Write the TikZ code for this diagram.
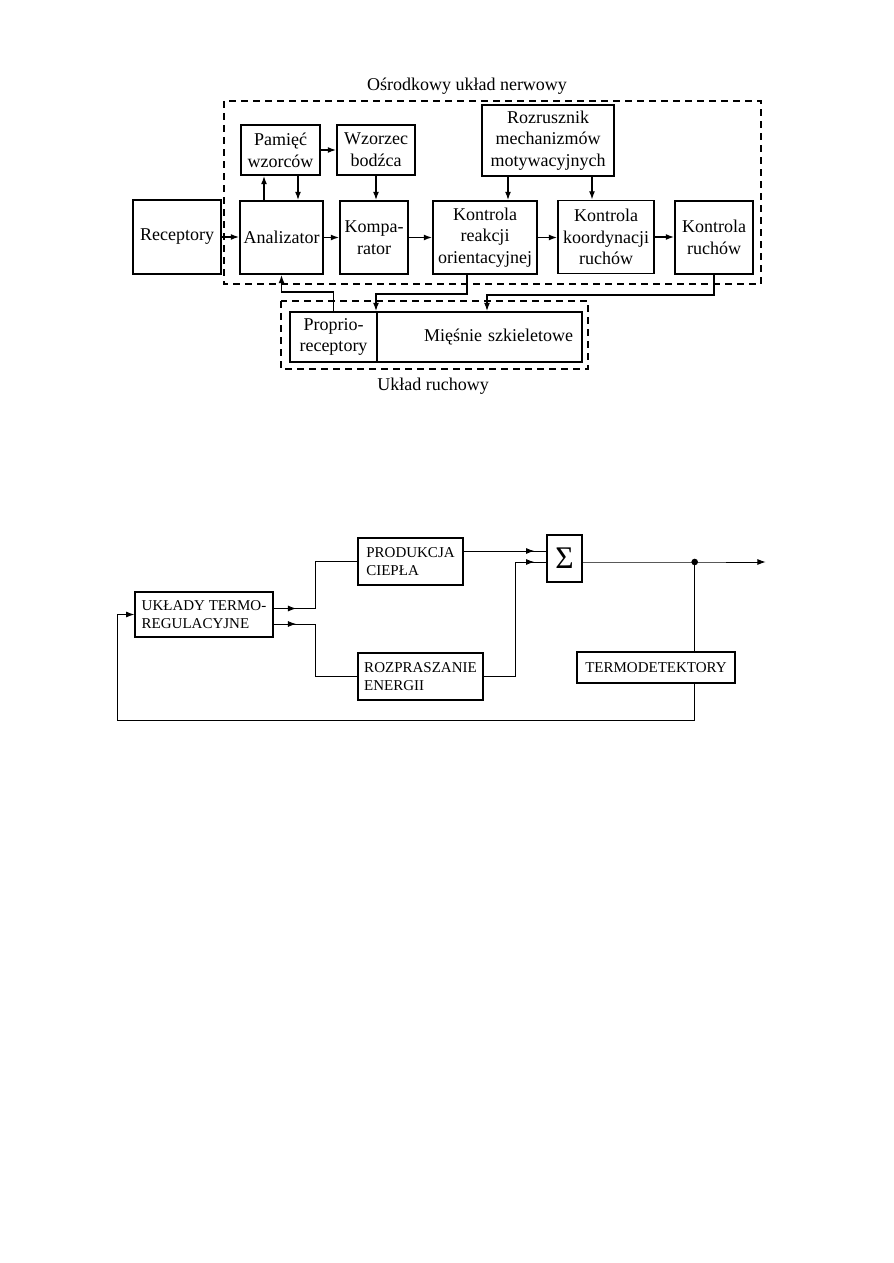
\documentclass[tikz,border=0pt]{standalone}
\usepackage{fontspec}
\setmainfont{Liberation Serif}
\usetikzlibrary{calc,arrows.meta}

\begin{document}
\begin{tikzpicture}[x=0.6666pt,y=-0.6666pt,
  >={Latex[length=5.5pt,width=4pt]},
  font=\fontsize{12}{14.5}\selectfont,
  blok/.style={draw,line width=1.3pt,align=center,inner sep=1pt},
  rozm/.style 2 args={minimum width=#1*0.6666pt,minimum height=#2*0.6666pt},
  rama/.style={line width=0.9pt,dash pattern=on 4.5pt off 3.5pt},
  linia/.style={line width=0.9pt},
  maly/.style={draw,line width=0.9pt,align=left,inner sep=1pt,font=\fontsize{10}{12}\selectfont},
  cienka/.style={line width=0.6pt}]
\useasboundingbox (0,0) rectangle (893,1263);

% osrodkowy uklad nerwowy
\draw[rama] (224,101) rectangle (761,284);
\draw (467,86) node (tytul1) {Ośrodkowy układ nerwowy};
\draw (177,237) node[blok,rozm={88}{74}] (recep) {Receptory};
\draw (281.5,237.5) node[blok,rozm={83}{73}] (anal) {Analizator};
\draw (280.5,150) node[blok,rozm={79}{50}] (pam) {Pamięć\\wzorców};
\draw (376,150) node[blok,rozm={78}{50}] (wzor) {Wzorzec\\bodźca};
\draw (374,237.5) node[blok,rozm={68}{73}] (komp) {Kompa-\\rator};
\draw (485,237.5) node[blok,rozm={104}{73}] (reak) {Kontrola\\reakcji\\orientacyjnej};
\draw (548,140.5) node[blok,rozm={132}{71}] (rozr) {Rozrusznik\\mechanizmów\\motywacyjnych};
\draw (606,237) node[blok,rozm={96}{73}] (koord) {Kontrola\\koordynacji\\ruchów};
\draw (714,237.5) node[blok,rozm={78}{73}] (ruch) {Kontrola\\ruchów};

% uklad ruchowy
\draw[rama] (281,301) rectangle (588,369);
\draw (433,386) node (tytul2) {Układ ruchowy};
\draw (333.5,337) node[blok,rozm={87}{50}] (proprio) {Proprio-\\receptory};
\draw (479.5,337) node[blok,rozm={205}{50},align=right,text width=124.7pt,inner xsep=6pt] (miesnie) {Mięśnie szkieletowe};

\draw[linia,->] (recep.east) -- (recep.east -| anal.west);
\draw[linia,->] (anal.east) -- (anal.east -| komp.west);
\draw[linia,->] (komp.east) -- (komp.east -| reak.west);
\draw[linia,->] (reak.east) -- (reak.east -| koord.west);
\draw[linia,->] (koord.east) -- (koord.east -| ruch.west);
\draw[linia,->] (pam.east) -- (pam.east -| wzor.west);
\draw[linia,->] ($(anal.north)+(-17.5,0)$) coordinate (a1) -- (a1 |- pam.south);
\draw[linia,->] ($(pam.south)+(17.5,0)$) coordinate (a2) -- (a2 |- anal.north);
\draw[linia,->] (wzor.south) -- (wzor.south |- komp.north);
\draw[linia,->] ($(rozr.south)+(-40,0)$) coordinate (m1) -- (m1 |- reak.north);
\draw[linia,->] ($(rozr.south)+(44,0)$) coordinate (m2) -- (m2 |- koord.north);
\draw[linia,->] (proprio.north) -- ++(0,-19) -| (anal.south);
\draw[linia,->] ($(reak.south)+(-18,0)$) -- ++(0,19) -| (miesnie.north west);
\draw[linia,->] (ruch.south) -- ++(0,20) -| ($(miesnie.north)+(7.5,0)$);

% termoregulacja
\draw (204,614.5) node[maly,rozm={138}{45}] (termo) {UKŁADY TERMO-\\REGULACYJNE};
\draw (410.5,561.5) node[maly,rozm={105}{47}] (prod) {PRODUKCJA\\CIEPŁA};
\draw (420.5,676.5) node[maly,rozm={125}{47}] (rozp) {ROZPRASZANIE\\ENERGII};
\draw (564.5,558.5) node[maly,rozm={35}{47},font=\fontsize{21}{21}\selectfont] (sigma) {Σ};
\draw (656,667.5) node[maly,rozm={158}{31}] (termodet) {TERMODETEKTORY};

\draw[cienka] ($(termo.east)+(0,-6)$) coordinate (t1) -- ++(42,0) |- (prod.west);
\draw[cienka,->,shorten >=13pt] (t1) -- ++(42,0);
\draw[cienka] ($(termo.east)+(0,9.5)$) coordinate (t2) -- ++(42,0) |- (rozp.west);
\draw[cienka,->,shorten >=13pt] (t2) -- ++(42,0);
\draw[cienka] ($(prod.east)+(0,-10.5)$) coordinate (p1) -- (p1 -| sigma.west);
\draw[cienka,->,shorten >=8pt] (p1) -- (p1 -| sigma.west);
\draw[cienka] (rozp.east) -- ++(32,0) coordinate (r2) |- ($(sigma.west)+(0,3.5)$) coordinate (s2);
\draw[cienka,->,shorten >=8pt] (r2 |- s2) -- (s2);
\draw[cienka,->] ($(sigma.east)+(0,3.5)$) -- ++(112,0) coordinate (kropka) -- ++(71,0);
\fill (kropka) circle (2.2pt);
\draw[cienka] (kropka) -- (kropka |- termodet.north);
\draw[cienka,->] (kropka |- termodet.south) -- ++(0,37) -| ($(termo.west)+(-17,0)$) -- (termo.west);
\end{tikzpicture}
\end{document}
